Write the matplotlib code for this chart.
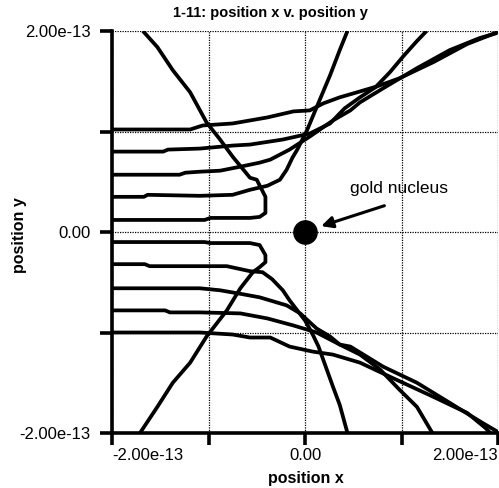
import numpy as np
import matplotlib
matplotlib.use('Agg')
import matplotlib.pyplot as plt

plt.rcParams['font.family'] = ['Liberation Sans', 'DejaVu Sans']

SCALE = 1e-13

# trajectories (units of 1e-13)
# upper half, impact parameter > 0
t1_x = [-2.00, -1.19, -1.06, -0.75, -0.39, -0.12, 0.05, 0.19, 0.36, 0.54, 0.75, 0.98, 1.33, 1.68, 2.00]
t1_y = [1.02, 1.02, 1.06, 1.08, 1.14, 1.20, 1.21, 1.28, 1.34, 1.39, 1.45, 1.53, 1.69, 1.87, 1.99]

t2_x = [-2.00, -1.47, -1.42, -1.09, -0.75, -0.57, -0.23, 0.05, 0.26, 0.41, 0.57, 0.73, 0.88, 1.02, 1.16, 1.26]
t2_y = [0.80, 0.80, 0.82, 0.83, 0.86, 0.87, 0.92, 0.98, 1.08, 1.23, 1.34, 1.44, 1.59, 1.75, 1.90, 2.00]

t3_x = [-2.00, -1.30, -1.24, -1.09, -0.88, -0.67, -0.47, -0.36, -0.16, 0.05, 0.29, 0.47, 0.57, 0.81, 1.16, 1.50, 1.81, 1.99]
t3_y = [0.57, 0.57, 0.59, 0.60, 0.61, 0.65, 0.69, 0.72, 0.82, 0.95, 1.11, 1.21, 1.29, 1.43, 1.63, 1.81, 1.93, 1.98]

t4_x = [-2.00, -1.67, -1.63, -1.09, -0.75, -0.57, -0.39, -0.26, -0.19, -0.13, -0.08, 0.02, 0.12, 0.26, 0.36, 0.44]
t4_y = [0.35, 0.35, 0.37, 0.36, 0.37, 0.42, 0.46, 0.52, 0.62, 0.74, 0.82, 1.01, 1.24, 1.56, 1.81, 2.00]

t5_x = [-2.00, -1.04, -0.98, -0.57, -0.47, -0.41, -0.41, -0.50, -0.57, -0.75, -0.88, -1.02, -1.19, -1.37, -1.53, -1.68]
t5_y = [0.12, 0.12, 0.14, 0.14, 0.15, 0.19, 0.35, 0.52, 0.54, 0.75, 0.92, 1.09, 1.39, 1.61, 1.84, 2.00]

# lower half, impact parameter < 0
t6_x = [-2.00, -1.04, -0.98, -0.57, -0.47, -0.44, -0.41, -0.41, -0.47, -0.54, -0.67, -0.81, -1.02, -1.19, -1.37, -1.53, -1.71]
t6_y = [-0.10, -0.10, -0.11, -0.11, -0.13, -0.18, -0.23, -0.30, -0.35, -0.40, -0.56, -0.78, -1.04, -1.30, -1.50, -1.74, -2.00]

t7_x = [-2.00, -1.66, -1.61, -0.81, -0.57, -0.44, -0.34, -0.23, -0.16, -0.08, 0.00, 0.07, 0.14, 0.20, 0.29, 0.36, 0.44]
t7_y = [-0.32, -0.32, -0.34, -0.34, -0.39, -0.40, -0.47, -0.58, -0.68, -0.78, -0.88, -1.00, -1.14, -1.30, -1.54, -1.72, -2.00]

t8_x = [-2.00, -1.09, -0.88, -0.64, -0.47, -0.19, -0.05, 0.12, 0.26, 0.36, 0.57, 0.78, 0.98, 1.16, 1.32]
t8_y = [-0.56, -0.56, -0.58, -0.62, -0.65, -0.73, -0.81, -0.96, -1.04, -1.12, -1.22, -1.37, -1.57, -1.74, -2.00]

t9_x = [-2.00, -1.45, -1.40, -1.09, -0.67, -0.39, -0.12, 0.12, 0.36, 0.47, 0.81, 1.16, 1.50, 1.84, 2.00]
t9_y = [-0.78, -0.78, -0.80, -0.80, -0.81, -0.86, -0.93, -1.00, -1.12, -1.14, -1.34, -1.50, -1.70, -1.90, -1.99]

t10_x = [-2.00, -1.55, -1.50, -1.09, -0.75, -0.57, -0.36, -0.16, 0.08, 0.29, 0.57, 0.88, 1.33, 1.68, 1.87, 1.92]
t10_y = [-1.00, -1.00, -1.00, -1.00, -1.02, -1.05, -1.05, -1.14, -1.19, -1.22, -1.30, -1.44, -1.64, -1.80, -1.95, -2.00]

trajs = [(t1_x, t1_y), (t2_x, t2_y), (t3_x, t3_y), (t4_x, t4_y), (t5_x, t5_y),
         (t6_x, t6_y), (t7_x, t7_y), (t8_x, t8_y), (t9_x, t9_y), (t10_x, t10_y)]

ticks = [-2, -1, 0, 1, 2]
tick_labels = ['-2.00e-13', '', '0.00', '', '2.00e-13']

nucleus = (0.0, 0.0)
label_pos = (0.97, 0.43)
arrow_from = (0.85, 0.27)
arrow_to = (0.14, 0.05)

fig = plt.figure(figsize=(4.99, 4.88), dpi=100)
ax = fig.add_axes([112 / 499, 55 / 488, 386 / 499, 402 / 488])

for x, y in trajs:
    ax.plot(np.array(x) * SCALE, np.array(y) * SCALE, color='black', lw=2.7,
            solid_joinstyle='round', solid_capstyle='butt')

ax.scatter([nucleus[0] * SCALE], [nucleus[1] * SCALE], s=280, color='black', zorder=5)
ax.annotate('', xy=(arrow_to[0] * SCALE, arrow_to[1] * SCALE),
            xytext=(arrow_from[0] * SCALE, arrow_from[1] * SCALE),
            arrowprops=dict(arrowstyle='-|>', color='black', lw=2.2, mutation_scale=17))
ax.text(label_pos[0] * SCALE, label_pos[1] * SCALE, 'gold nucleus',
        ha='center', va='center', fontsize=12.5)

ax.set_xlim(-2 * SCALE, 2 * SCALE)
ax.set_ylim(-2 * SCALE, 2 * SCALE)
ax.set_xticks([t * SCALE for t in ticks])
ax.set_yticks([t * SCALE for t in ticks])
ax.set_xticklabels(tick_labels, fontsize=12)
ax.set_yticklabels(tick_labels, fontsize=12)
xl = ax.get_xticklabels()
xl[0].set_ha('left')
xl[-1].set_ha('right')

ax.grid(True, color='black', linestyle=(0, (1, 1)), lw=0.9)
ax.set_axisbelow(True)
for s in ['top', 'right']:
    ax.spines[s].set_visible(False)
for s in ['left', 'bottom']:
    ax.spines[s].set_linewidth(2.6)
ax.tick_params(axis='y', direction='out', length=8.5, width=2.6, pad=7)
ax.tick_params(axis='x', direction='out', length=8.5, width=2.6, pad=2)

fig.text(270 / 499, 1 - 13 / 488, '1-11: position x v. position y',
         ha='center', va='center', fontsize=10.5, fontweight='bold')
fig.text(306 / 499, 1 - 478 / 488, 'position x', ha='center', va='center',
         fontsize=11.5, fontweight='bold')
fig.text(20 / 499, 1 - 235 / 488, 'position y', ha='center', va='center',
         fontsize=11.5, fontweight='bold', rotation=90)

fig.savefig('out.png', dpi=100)
